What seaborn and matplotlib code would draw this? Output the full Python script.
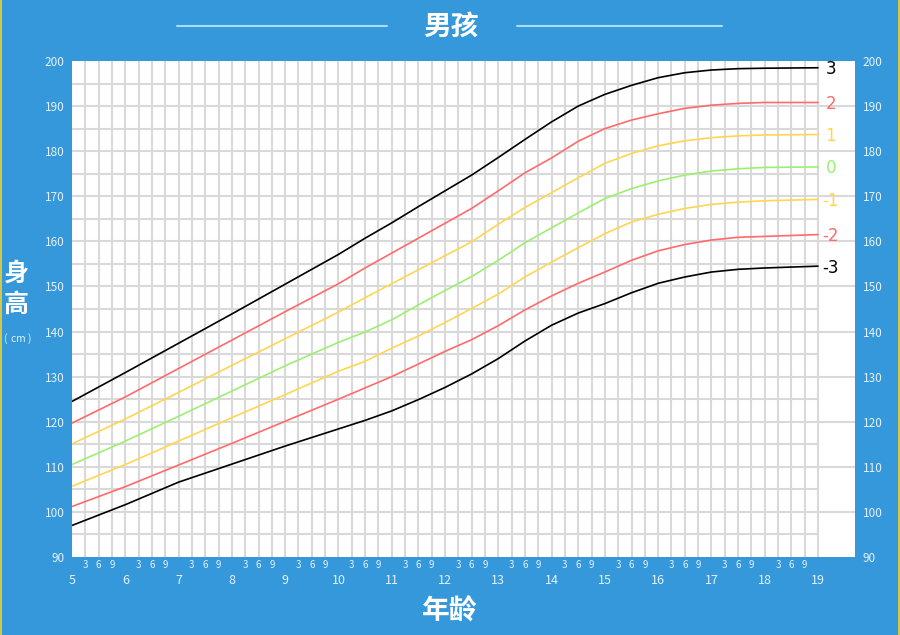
import numpy as np
import pandas as pd
import matplotlib
matplotlib.use("Agg")
import matplotlib.pyplot as plt
from matplotlib.lines import Line2D
import seaborn as sns

# ---------------- data ----------------
ages = [5, 6, 7, 8, 9, 10, 10.5, 11, 11.5, 12, 12.5, 13, 13.5, 14, 14.5, 15, 15.5,
        16, 16.5, 17, 17.5, 18, 19]

sd_p3 = [124.5, 130.9, 137.4, 143.9, 150.5, 157.1, 160.7, 164.1, 167.7, 171.2, 174.7,
         178.6, 182.6, 186.5, 190.0, 192.6, 194.6, 196.3, 197.4, 198.0, 198.3, 198.4, 198.5]
sd_p2 = [119.7, 125.5, 131.8, 138.1, 144.4, 150.6, 154.1, 157.4, 160.7, 164.0, 167.3,
         171.2, 175.2, 178.5, 182.2, 185.0, 186.9, 188.3, 189.5, 190.2, 190.6, 190.8, 190.8]
sd_p1 = [115.1, 120.6, 126.5, 132.5, 138.4, 144.3, 147.5, 150.6, 153.7, 156.8, 159.9,
         163.8, 167.5, 170.8, 174.1, 177.3, 179.5, 181.2, 182.3, 183.0, 183.4, 183.6, 183.7]
sd_0 = [110.5, 115.7, 121.2, 126.8, 132.4, 137.6, 139.9, 142.6, 145.9, 149.1, 152.2,
        155.8, 159.7, 163.0, 166.3, 169.5, 171.7, 173.4, 174.7, 175.6, 176.1, 176.4, 176.5]
sd_m1 = [105.7, 110.5, 115.7, 120.9, 126.0, 131.2, 133.4, 136.3, 139.0, 142.0, 145.1,
         148.3, 152.1, 155.4, 158.6, 161.7, 164.3, 166.0, 167.3, 168.2, 168.7, 169.0, 169.3]
sd_m2 = [101.2, 105.6, 110.4, 115.2, 120.1, 125.0, 127.5, 130.0, 132.8, 135.6, 138.2,
         141.3, 144.8, 147.9, 150.7, 153.2, 155.8, 157.9, 159.3, 160.3, 160.9, 161.1, 161.5]
sd_m3 = [97.0, 101.6, 106.6, 110.6, 114.6, 118.4, 120.3, 122.4, 124.9, 127.6, 130.6,
         134.0, 137.9, 141.4, 144.1, 146.2, 148.6, 150.7, 152.1, 153.2, 153.8, 154.1, 154.5]

curve_names = ["3", "2", "1", "0", "-1", "-2", "-3"]
curve_values = [sd_p3, sd_p2, sd_p1, sd_0, sd_m1, sd_m2, sd_m3]
curve_colors = ["#000000", "#ff6a6a", "#ffd650", "#9cf070", "#ffd650", "#ff6a6a", "#000000"]

year_ticks = list(range(5, 20))
month_labels = ["3", "6", "9"]
y_ticks = list(range(90, 201, 10))

title_text = "男孩"
xlabel_text = "年龄"
ylabel_chars = ["身", "高"]
ylabel_unit = "(cm)"

# ---------------- style ----------------
sns.set_theme(style="white")
plt.rcParams["font.family"] = ["Noto Sans CJK SC", "DejaVu Sans"]

BG = "#3598db"
TICK_C = "#e4f1fb"
GRID_C = "#d9d9d9"

W, H = 900, 635
fig = plt.figure(figsize=(9, 6.35), dpi=100, facecolor=BG)
ax = fig.add_axes([72 / W, 1 - 557 / H, (855 - 72) / W, (557 - 61) / H])
ax.set_facecolor("white")
px_per_year = (818 - 72) / 14.0
xmax = 5 + (855 - 72) / px_per_year
ax.set_xlim(5, xmax)
ax.set_ylim(90, 200)

# grid
qx = np.arange(5.25, 19.001, 0.25)
ax.vlines(qx, 90, 200, color=GRID_C, lw=1.5, zorder=1)
for v in range(95, 200, 5):
    if v % 10 == 0:
        ax.hlines(v, 5, xmax, color=GRID_C, lw=1.5, zorder=1)
    else:
        ax.hlines(v, 5, 19, color=GRID_C, lw=1.5, zorder=1)

# curves
frames = []
for name, vals in zip(curve_names, curve_values):
    frames.append(pd.DataFrame({"age": ages, "height": vals, "curve": name}))
df = pd.concat(frames, ignore_index=True)
palette = dict(zip(curve_names, curve_colors))
sns.lineplot(data=df, x="age", y="height", hue="curve", palette=palette,
             sort=False, estimator=None, legend=False, lw=1.2, ax=ax, zorder=3)

for name, vals, col in zip(curve_names, curve_values, curve_colors):
    ax.text(19.24, vals[-1] - 0.3, name, color=col, fontsize=12,
            ha="center", va="center", family=["DejaVu Sans"])

# axes ticks
ax.set_xlabel("")
ax.set_ylabel("")
for s in ax.spines.values():
    s.set_visible(False)

ax.set_xticks(year_ticks)
ax.set_xticklabels([str(y) for y in year_ticks])
minor_pos = [y + q for y in year_ticks[:-1] for q in (0.25, 0.5, 0.75)]
ax.set_xticks(minor_pos, minor=True)
ax.set_xticklabels(month_labels * (len(year_ticks) - 1), minor=True)
ax.tick_params(axis="x", which="major", length=0, pad=12, labelsize=9, colors=TICK_C)
ax.tick_params(axis="x", which="minor", length=0, pad=2, labelsize=7, colors=TICK_C)

ax.set_yticks(y_ticks)
ax.set_yticklabels([str(v) for v in y_ticks])
ax.tick_params(axis="y", left=True, right=True, labelleft=True, labelright=True,
               length=0, pad=5.5, labelsize=8.5, colors=TICK_C)

# titles
fig.text(451 / W, 1 - 27 / H, title_text, color="white", fontsize=20,
         fontweight="bold", ha="center", va="center")
for x0, x1 in [(177, 387), (517, 722)]:
    fig.add_artist(Line2D([x0 / W, x1 / W], [1 - 26 / H] * 2, color="#a9dcf7", lw=1.5))
fig.text(450 / W, 1 - 612 / H, xlabel_text, color="white", fontsize=20,
         fontweight="bold", ha="center", va="center")
fig.text(16 / W, 1 - 274 / H, ylabel_chars[0], color="white", fontsize=18,
         fontweight="bold", ha="center", va="center")
fig.text(16 / W, 1 - 305 / H, ylabel_chars[1], color="white", fontsize=18,
         fontweight="bold", ha="center", va="center")
unit_x = [6, 13, 21, 29]
for ch, ux in zip(ylabel_unit, unit_x):
    fig.text(ux / W, 1 - 339 / H, ch, color=TICK_C, fontsize=7.5,
             ha="center", va="center")

# thin yellow edges
fig.add_artist(Line2D([0.6 / W, 0.6 / W], [0, 1], color="#f2d22a", lw=1.2))
fig.add_artist(Line2D([1 - 0.6 / W, 1 - 0.6 / W], [0, 1], color="#f2d22a", lw=1.2))

fig.savefig("out.png", dpi=100, facecolor=BG)
